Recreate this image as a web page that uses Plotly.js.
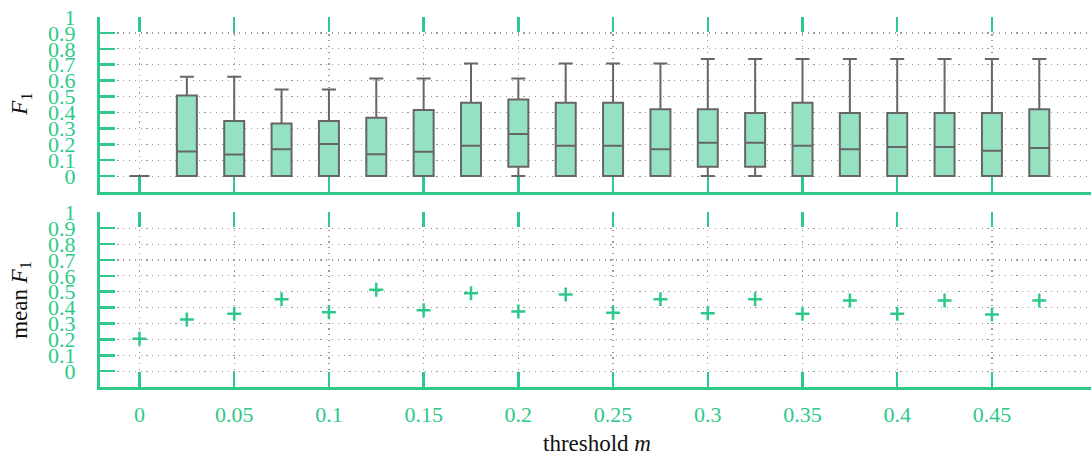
<!DOCTYPE html>
<html>
<head>
<meta charset="utf-8">
<script src="https://cdn.plot.ly/plotly-3.0.1.min.js"></script>
<style>html,body{margin:0;padding:0;background:#fff;}#chart{width:1091px;height:455px;}</style>
</head>
<body>
<div id="chart"></div>
<script>
// ---- data ----
const thresholds = [0, 0.025, 0.05, 0.075, 0.1, 0.125, 0.15, 0.175, 0.2, 0.225,
                    0.25, 0.275, 0.3, 0.325, 0.35, 0.375, 0.4, 0.425, 0.45, 0.475];
const f1Lower  = [0, 0, 0, 0, 0, 0, 0, 0, 0, 0, 0, 0, 0, 0, 0, 0, 0, 0, 0, 0];
const f1Q1     = [0, 0, 0, 0, 0, 0, 0, 0, 0.059, 0, 0, 0, 0.059, 0.059, 0, 0, 0, 0, 0, 0];
const f1Median = [0, 0.155, 0.135, 0.168, 0.201, 0.138, 0.153, 0.191, 0.264, 0.191,
                  0.191, 0.168, 0.21, 0.21, 0.191, 0.168, 0.183, 0.183, 0.16, 0.176];
const f1Q3     = [0, 0.507, 0.346, 0.331, 0.346, 0.367, 0.415, 0.461, 0.482, 0.461,
                  0.461, 0.42, 0.42, 0.396, 0.461, 0.396, 0.396, 0.396, 0.396, 0.42];
const f1Upper  = [0, 0.625, 0.625, 0.545, 0.545, 0.614, 0.614, 0.707, 0.614, 0.707,
                  0.707, 0.707, 0.736, 0.736, 0.736, 0.736, 0.736, 0.736, 0.736, 0.736];
const meanF1   = [0.204, 0.325, 0.361, 0.453, 0.371, 0.512, 0.384, 0.491, 0.375, 0.482,
                  0.367, 0.453, 0.365, 0.453, 0.361, 0.445, 0.361, 0.445, 0.357, 0.445];
const xTickVals = [0, 0.05, 0.1, 0.15, 0.2, 0.25, 0.3, 0.35, 0.4, 0.45];
const xTickText = ["0", "0.05", "0.1", "0.15", "0.2", "0.25", "0.3", "0.35", "0.4", "0.45"];
const yTickVals = [0, 0.1, 0.2, 0.3, 0.4, 0.5, 0.6, 0.7, 0.8, 0.9, 1];
const yTickText = ["0", "0.1", "0.2", "0.3", "0.4", "0.5", "0.6", "0.7", "0.8", "0.9", "1"];

// ---- style ----
const GREEN = "rgb(46,201,138)";
const FILL = "rgb(148,226,194)";
const GRAY = "#666666";
const GRID = "#9a9a9a";
const FONT = "Liberation Serif, DejaVu Serif, serif";
const xRange = [-0.02085, 0.5023];
const yRange = [-0.1, 1];

const traces = [
  {
    type: "box", xaxis: "x", yaxis: "y",
    x: thresholds, q1: f1Q1, median: f1Median, q3: f1Q3,
    lowerfence: f1Lower, upperfence: f1Upper,
    width: 0.01056, whiskerwidth: 0.7, boxpoints: false,
    fillcolor: FILL, line: {color: GRAY, width: 2},
    hoverinfo: "skip", showlegend: false
  },
  {
    type: "scatter", mode: "markers", xaxis: "x2", yaxis: "y2",
    x: thresholds, y: meanF1,
    marker: {symbol: "cross-thin", size: 10, color: GREEN, line: {color: GREEN, width: 2.5}},
    hoverinfo: "skip", showlegend: false
  },
  {type: "scatter", mode: "markers", xaxis: "x3", yaxis: "y", x: [], y: [], showlegend: false, hoverinfo: "skip"},
  {type: "scatter", mode: "markers", xaxis: "x4", yaxis: "y2", x: [], y: [], showlegend: false, hoverinfo: "skip"}
];

function xAxis(anchor, labels) {
  return {
    anchor: anchor, domain: [0, 1], range: xRange, fixedrange: true,
    tickmode: "array", tickvals: xTickVals, ticktext: xTickText,
    showticklabels: labels, ticks: "inside", ticklen: 15, tickwidth: 2.5, tickcolor: GREEN,
    showline: true, linecolor: GREEN, linewidth: 3,
    showgrid: true, gridcolor: GRID, gridwidth: 1.2, griddash: "1.2px,4.6px",
    zeroline: false, ticklabelstandoff: 6,
    tickfont: {family: FONT, size: 22, color: GREEN}
  };
}
function topTicks(overlay, anchor) {
  return {
    overlaying: overlay, anchor: anchor, side: "top", range: xRange, fixedrange: true,
    tickmode: "array", tickvals: xTickVals, showticklabels: false,
    ticks: "inside", ticklen: 15, tickwidth: 2.5, tickcolor: GREEN,
    showline: false, showgrid: false, zeroline: false
  };
}
function yAxis(domain) {
  return {
    anchor: domain[0] > 0.3 ? "x" : "x2", domain: domain, range: yRange, fixedrange: true,
    tickmode: "array", tickvals: yTickVals, ticktext: yTickText,
    ticks: "inside", ticklen: 15, tickwidth: 2.5, tickcolor: GREEN,
    showline: true, linecolor: GREEN, linewidth: 3,
    showgrid: true, gridcolor: GRID, gridwidth: 1.2, griddash: "1.2px,4.6px",
    zeroline: false, ticklabelstandoff: 17,
    tickfont: {family: FONT, size: 22, color: GREEN}
  };
}

const layout = {
  width: 1091, height: 455,
  margin: {l: 100, r: 0, t: 17, b: 68, pad: 0},
  paper_bgcolor: "#ffffff", plot_bgcolor: "#ffffff",
  showlegend: false,
  xaxis: xAxis("y", false),
  xaxis2: xAxis("y2", true),
  xaxis3: topTicks("x", "y"),
  xaxis4: topTicks("x2", "y2"),
  yaxis: yAxis([0.527, 1]),
  yaxis2: yAxis([0, 0.472]),
  annotations: [
    {xref: "paper", yref: "paper", x: -0.08, y: 0.765, xanchor: "center", yanchor: "middle",
     text: "<i>F</i><sub>1</sub>", textangle: -90, showarrow: false,
     font: {family: FONT, size: 23, color: "#111"}},
    {xref: "paper", yref: "paper", x: -0.08, y: 0.235, xanchor: "center", yanchor: "middle",
     text: "mean <i>F</i><sub>1</sub>", textangle: -90, showarrow: false,
     font: {family: FONT, size: 23, color: "#111"}},
    {xref: "paper", yref: "paper", x: 0.5015, y: -0.1514, xanchor: "center", yanchor: "middle",
     text: "threshold <i>m</i>", showarrow: false,
     font: {family: FONT, size: 23, color: "#111"}}
  ]
};

Plotly.newPlot("chart", traces, layout, {staticPlot: true, displayModeBar: false});
</script>
</body>
</html>
